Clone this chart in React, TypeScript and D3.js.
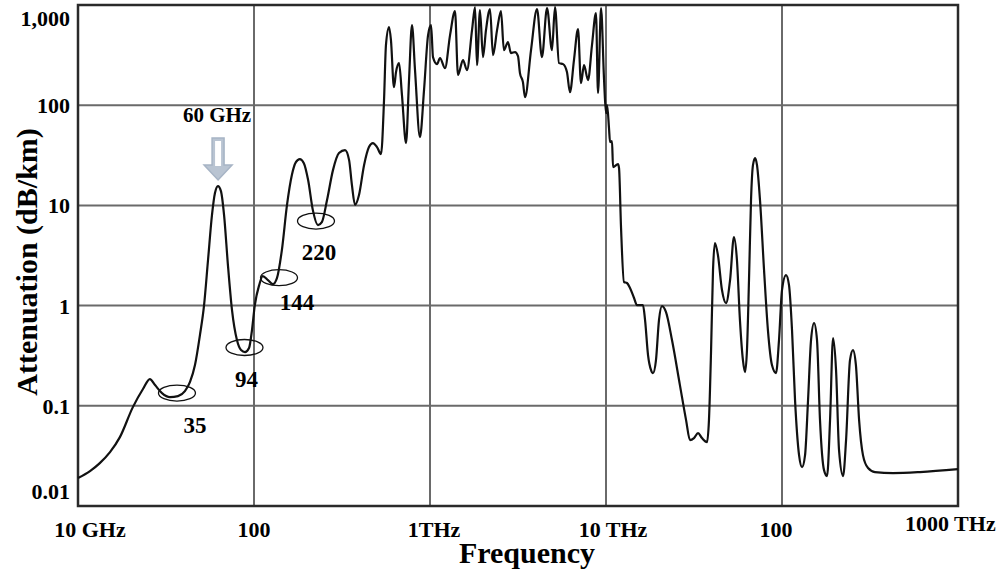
import React from "react";
import * as d3 from "d3";

// Frequency in GHz, attenuation in dB/km
const microwave: [number, number][] = [
  [10, 0.019], [11.7, 0.0223], [13.3, 0.0268], [15.2, 0.0345], [17.3, 0.0487], [20.5, 0.097],
  [23.4, 0.147], [25.6, 0.185], [27.4, 0.161], [30.0, 0.134], [33.3, 0.122], [37.0, 0.125],
  [40.5, 0.14], [43.3, 0.173], [46.2, 0.255], [49.3, 0.508], [52.0, 1.0], [54.8, 2.85],
  [57.7, 8.0], [60.0, 13.3], [62.4, 15.6], [64.9, 13.9], [67.6, 8.0], [71.1, 2.54],
  [75.0, 0.9], [80.0, 0.453], [84.4, 0.36], [88.9, 0.343], [93.7, 0.377], [97.4, 0.57],
];
const subTHz: [number, number][] = [
  [101, 1.0], [107, 1.6], [112, 1.97], [120, 1.8], [128, 1.64], [135, 1.88], [144, 3.58],
  [154, 10.1], [164, 20.0], [173, 27.0], [182, 29.0], [192, 26.4], [203, 17.9], [216, 8.97],
  [231, 6.36], [243, 6.81], [260, 11.3], [281, 22.5], [304, 33.3], [329, 35.6], [347, 28.3],
  [360, 16.0], [375, 10.1], [395, 12.7], [422, 25.2], [450, 38.2], [474, 41.9], [500, 38.2],
  [527, 32.5], [548, 112], [562, 398], [585, 601], [600, 447], [624, 151], [641, 214],
  [667, 263], [693, 126], [731, 41.9], [760, 178], [790, 630], [822, 224], [877, 48],
  [925, 142], [975, 501],
];
const terahertz: [number, number][] = [
  [1014, 630], [1040, 302], [1096, 257], [1140, 295], [1217, 234], [1300, 501], [1387, 869],
  [1442, 200], [1540, 282], [1622, 224], [1733, 561], [1803, 953], [1849, 251], [1923, 889],
  [2000, 302], [2080, 561], [2193, 910], [2280, 316], [2404, 561], [2531, 869], [2630, 355],
  [2773, 427], [2884, 331], [3041, 339], [3162, 309], [3244, 209], [3373, 170], [3467, 120],
  [3750, 355], [4055, 910], [4325, 302], [4624, 931], [4932, 355], [5130, 953], [5408, 263],
  [5702, 257], [6000, 214], [6240, 135], [6577, 282], [6934, 574], [7211, 166], [7499, 251],
  [7905, 178], [8325, 398], [8770, 830], [9010, 132], [9370, 931], [9750, 178],
];
const infrared: [number, number][] = [
  [10000, 83.4], [10140, 100], [10400, 59.2], [10540, 42.9], [10820, 43.9], [10960, 24.1],
  [11700, 25.8], [11860, 23.5], [12170, 6.07], [12650, 1.72], [13160, 1.68], [13690, 1.5],
  [14430, 1.19], [15000, 1.01], [16220, 1.01], [16670, 0.717], [17330, 0.321], [18030, 0.227],
  [18490, 0.212], [19230, 0.286], [20000, 0.717], [20800, 0.99], [21930, 0.861], [23710, 0.453],
  [26300, 0.161], [28510, 0.072], [30000, 0.0455], [31620, 0.0476], [33340, 0.0534],
  [35090, 0.0476], [37500, 0.0434], [38460, 0.072], [39540, 0.36], [40550, 2.26], [41590, 4.2],
  [43250, 3.19], [45600, 1.43], [48080, 1.06], [50700, 1.8], [53330, 4.83], [55460, 2.85],
  [57680, 0.717], [59980, 0.286], [61660, 0.217], [63240, 0.36], [64940, 1.8], [66680, 11.3],
  [68390, 25.2], [70310, 29.6], [72110, 25.2], [74990, 11.3], [79070, 2.26], [83180, 0.57],
  [87700, 0.255], [92470, 0.212], [96160, 0.453],
];
const optical: [number, number][] = [
  [100000, 1.43], [105400, 2.01], [109600, 1.6], [114000, 0.57], [118600, 0.114],
  [125000, 0.0322], [130000, 0.0244], [135200, 0.0322], [140600, 0.114], [146200, 0.453],
  [152100, 0.668], [158100, 0.453], [164400, 0.072], [173300, 0.0228], [180300, 0.0199],
  [187500, 0.072], [195000, 0.474], [202800, 0.227], [210900, 0.0361], [222300, 0.0199],
  [231200, 0.0455], [243400, 0.286], [253100, 0.36], [263000, 0.255], [274200, 0.072],
  [288400, 0.0322], [308300, 0.0239], [337300, 0.0218], [427600, 0.0213], [608100, 0.0218],
  [1000000, 0.0233],
];

const xTickValues = [10, 100, 1000, 10000, 100000, 1000000];
const xTickLabels = ["10 GHz", "100", "1THz", "10 THz", "100", "1000 THz"];
const yTickValues = [1000, 100, 10, 1, 0.1, 0.01];
const yTickLabels = ["1,000", "100", "10", "1", "0.1", "0.01"];

// annotated windows: [freq GHz, atten, label]
const windows: [number, number, string][] = [
  [36.5, 0.134, "35"],
  [88.3, 0.382, "94"],
  [138.7, 1.9, "144"],
  [225, 6.98, "220"],
];

const W = 1005;
const H = 571;
const FONT = "'Liberation Serif', 'Times New Roman', serif";

export default function App() {
  const x = d3.scaleLog().domain([10, 1e6]).range([78, 958]);
  const y = d3.scaleLog().domain([0.01, 1000]).range([506, 5]);
  const data = [...microwave, ...subTHz, ...terahertz, ...infrared, ...optical];
  const line = d3
    .line<[number, number]>()
    .x((d) => x(d[0]))
    .y((d) => y(d[1]))
    .curve(d3.curveMonotoneX);

  const labelOffsets: Record<string, [number, number]> = {
    "35": [18, 40],
    "94": [2, 40],
    "144": [18, 32],
    "220": [3, 39],
  };

  const ax = x(62.5);
  const arrowTop = 138;
  const arrow = `M${ax - 6},${arrowTop} L${ax + 6},${arrowTop} L${ax + 6},${arrowTop + 27} L${ax + 14},${arrowTop + 27} L${ax},${arrowTop + 42} L${ax - 14},${arrowTop + 27} L${ax - 6},${arrowTop + 27} Z`;

  return (
    <svg
      width={W}
      height={H}
      style={{ position: "absolute", left: 0, top: 0, background: "#fff" }}
      fontFamily={FONT}
      fontWeight="bold"
    >
      <rect x={0} y={0} width={W} height={H} fill="#fff" />
      {/* grid */}
      {xTickValues.map((v) => (
        <line key={"gx" + v} x1={x(v)} x2={x(v)} y1={y(1000)} y2={y(0.01)} stroke="#6a6a6a" strokeWidth={2} />
      ))}
      {yTickValues.map((v) => (
        <line key={"gy" + v} x1={x(10)} x2={x(1e6)} y1={y(v)} y2={y(v)} stroke="#6a6a6a" strokeWidth={2} />
      ))}
      {/* frame */}
      <rect
        x={x(10)}
        y={y(1000)}
        width={x(1e6) - x(10)}
        height={y(0.01) - y(1000)}
        fill="none"
        stroke="#2a2a2a"
        strokeWidth={2.5}
      />
      {/* curve */}
      <path d={line(data) || ""} fill="none" stroke="#111" strokeWidth={2.2} strokeLinejoin="round" />

      {/* y tick labels */}
      {yTickValues.map((v, i) => {
        let yy = y(v) + 8;
        if (v === 1000) yy = 26;
        if (v === 0.01) yy = 499;
        return (
          <text key={"ty" + v} x={70} y={yy} textAnchor="end" fontSize={22} fill="#000">
            {yTickLabels[i]}
          </text>
        );
      })}
      {/* x tick labels */}
      {xTickValues.map((v, i) => {
        let xx = x(v);
        let anchor: "middle" | "start" = "middle";
        let yy = 537;
        if (i === 0) xx = 90;
        if (i === 2) xx = 434;
        if (i === 3) xx = 613;
        if (i === 4) xx = 776;
        if (i === 5) {
          xx = 905;
          anchor = "start";
          yy = 531;
        }
        return (
          <text key={"tx" + v} x={xx} y={yy} textAnchor={anchor} fontSize={22} fill="#000">
            {xTickLabels[i]}
          </text>
        );
      })}

      {/* axis titles */}
      <text x={527} y={563} textAnchor="middle" fontSize={30} fill="#000">
        Frequency
      </text>
      <text
        transform={`translate(37,262) rotate(-90)`}
        textAnchor="middle"
        fontSize={30}
        fill="#000"
      >
        Attenuation (dB/km)
      </text>

      {/* window annotations */}
      {windows.map(([f, a, lab]) => {
        const cx = x(f);
        const cy = y(a);
        const off = labelOffsets[lab];
        return (
          <g key={"w" + lab}>
            <ellipse cx={cx} cy={cy} rx={18.5} ry={8} fill="none" stroke="#111" strokeWidth={1.3} />
            <text x={cx + off[0]} y={cy + off[1]} textAnchor="middle" fontSize={23} fill="#000">
              {lab}
            </text>
          </g>
        );
      })}

      {/* 60 GHz annotation */}
      <text x={217} y={122} textAnchor="middle" fontSize={21} fill="#000">
        60 GHz
      </text>
      <path d={arrow} fill="#b9c4d2" stroke="#a7b4c5" strokeWidth={1.5} />
      <rect x={ax - 3} y={arrowTop + 3} width={6} height={25} fill="#fff" />
    </svg>
  );
}
